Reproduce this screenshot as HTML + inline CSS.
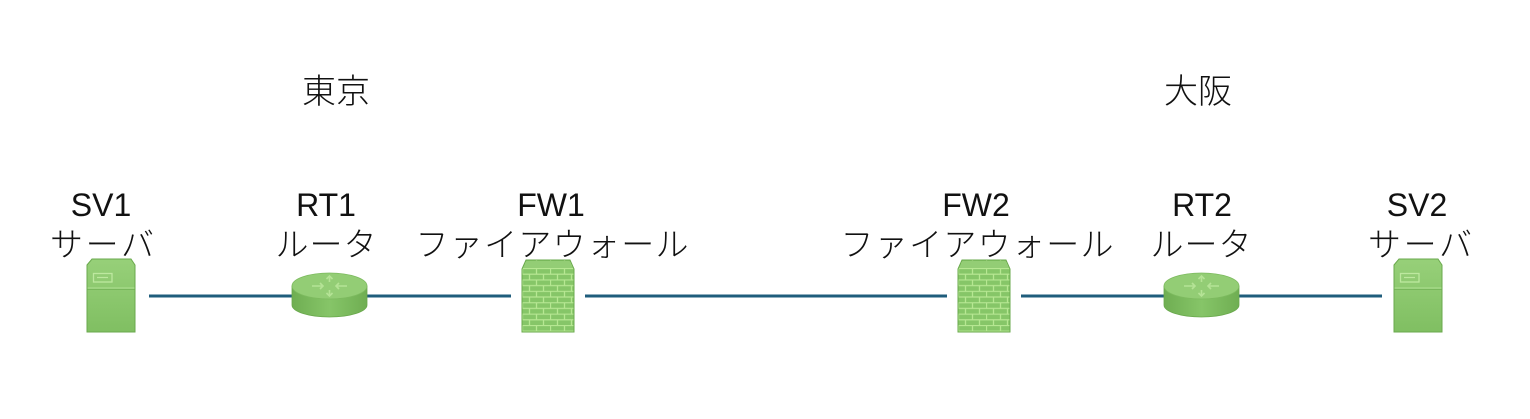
<!DOCTYPE html>
<html><head><meta charset="utf-8"><style>
html,body{margin:0;padding:0;background:#fff;}
svg{display:block;}
text{font-family:"Liberation Sans","Noto Sans CJK JP",sans-serif;fill:#111;}
.j{font-family:"Noto Sans CJK JP","Liberation Sans",sans-serif;font-size:33px;font-weight:300;}
.l{font-size:32px;}
</style></head><body>
<svg width="1530" height="419" viewBox="0 0 1530 419" xmlns="http://www.w3.org/2000/svg">
<defs>
  <linearGradient id="gs" x1="0" y1="0" x2="0" y2="1">
    <stop offset="0" stop-color="#97d079"/>
    <stop offset="1" stop-color="#80bf62"/>
  </linearGradient>
  <linearGradient id="gr" x1="0" y1="0" x2="1" y2="0">
    <stop offset="0" stop-color="#6fae52"/>
    <stop offset="0.5" stop-color="#86c568"/>
    <stop offset="1" stop-color="#6fae52"/>
  </linearGradient>
  <pattern id="brick" patternUnits="userSpaceOnUse" x="522" y="268" width="28" height="11.4">
    <rect width="28" height="11.4" fill="#86c668"/>
    <path d="M0,0.5H28M0,6.2H28M0.5,0V5.7M14.5,0V5.7M7.5,5.7V11.4M21.5,5.7V11.4" stroke="#b6e792" stroke-width="1.3" fill="none"/>
  </pattern>
  <g id="server">
    <path d="M87,265 L92,259 L131,259 L135,265 L135,332 L87,332 Z" fill="url(#gs)" stroke="#6aa94d" stroke-width="1"/>
    <path d="M87.5,288 H134.5" stroke="#a9dc8b" stroke-width="1.2"/>
    <path d="M87.5,289.5 H134.5" stroke="#72b055" stroke-width="0.8"/>
    <rect x="93.5" y="273.5" width="18.5" height="8.5" fill="none" stroke="#bde89f" stroke-width="1.3"/>
    <path d="M97,277.5 H108" stroke="#bde89f" stroke-width="1.2"/>
  </g>
  <g id="router">
    <path d="M292,286 V305 A37.5,12 0 0 0 367,305 V286 Z" fill="url(#gr)" stroke="#69a84c" stroke-width="0.8"/>
    <ellipse cx="329.5" cy="286" rx="37.5" ry="13" fill="#93cd75" stroke="#7dbb5f" stroke-width="0.8"/>
    <g stroke="#b9e69a" stroke-width="1.6" fill="none" opacity="0.9">
      <path d="M312,286 H323 M336,286 H347"/>
      <path d="M329.5,276 V282 M329.5,290 V296"/>
      <path d="M320,283 L323,286 L320,289 M339,283 L336,286 L339,289"/>
      <path d="M326.5,279 L329.5,276 L332.5,279 M326.5,293 L329.5,296 L332.5,293"/>
    </g>
  </g>
  <g id="fw">
    <path d="M522,269 L526,260 L570,260 L574,269 L574,332 L522,332 Z" fill="url(#brick)" stroke="#6aa94d" stroke-width="1"/>
    <path d="M523,268 L526.5,261 L569.5,261 L573,268 Z" fill="#93cd75"/>
  </g>
</defs>

<!-- connectors -->
<g stroke="#1f5d7c" stroke-width="3">
  <line x1="149" y1="296" x2="294" y2="296"/>
  <line x1="366" y1="296" x2="511" y2="296"/>
  <line x1="585" y1="296" x2="947" y2="296"/>
  <line x1="1021" y1="296" x2="1166" y2="296"/>
  <line x1="1237" y1="296" x2="1382" y2="296"/>
</g>

<!-- icons -->
<use href="#server"/>
<use href="#router"/>
<use href="#fw"/>
<use href="#fw" transform="translate(436,0)"/>
<use href="#router" transform="translate(872,0)"/>
<use href="#server" transform="translate(1307,0)"/>

<!-- region labels -->
<text class="j" x="336" y="103" text-anchor="middle" style="font-size:34px">東京</text>
<text class="j" x="1198" y="103" text-anchor="middle" style="font-size:34px">大阪</text>

<!-- node labels -->
<text class="l" x="101" y="216" text-anchor="middle">SV1</text>
<text class="j" x="102" y="256" text-anchor="middle" textLength="104" lengthAdjust="spacing">サーバ</text>

<text class="l" x="326" y="216" text-anchor="middle">RT1</text>
<text class="j" x="326" y="256" text-anchor="middle" textLength="101" lengthAdjust="spacing">ルータ</text>

<text class="l" x="551" y="216" text-anchor="middle">FW1</text>
<text class="j" x="552" y="256" text-anchor="middle" textLength="273" lengthAdjust="spacing">ファイアウォール</text>

<text class="l" x="976" y="216" text-anchor="middle">FW2</text>
<text class="j" x="977" y="256" text-anchor="middle" textLength="273" lengthAdjust="spacing">ファイアウォール</text>

<text class="l" x="1202" y="216" text-anchor="middle">RT2</text>
<text class="j" x="1201" y="256" text-anchor="middle" textLength="101" lengthAdjust="spacing">ルータ</text>

<text class="l" x="1417" y="216" text-anchor="middle">SV2</text>
<text class="j" x="1420" y="256" text-anchor="middle" textLength="104" lengthAdjust="spacing">サーバ</text>
</svg>
</body></html>
